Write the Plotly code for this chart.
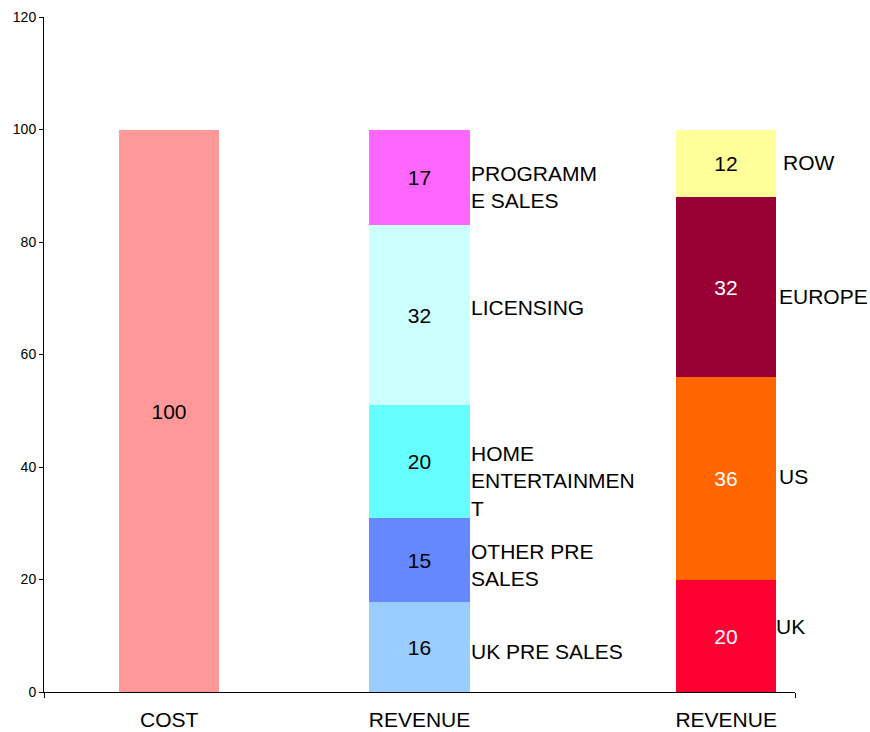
import plotly.graph_objects as go

# ---- data ----
group_labels = ["COST", "REVENUE", "REVENUE"]
group_pos = [0.5, 1.5, 2.725]

cost_names = ["COST"]
cost_values = [100]

revenue_type_names = ["UK PRE SALES", "OTHER PRE SALES", "HOME ENTERTAINMENT", "LICENSING", "PROGRAMME SALES"]
revenue_type_labels = ["UK PRE SALES", "OTHER PRE<br>SALES", "HOME<br>ENTERTAINMEN<br>T", "LICENSING", "PROGRAMM<br>E SALES"]
revenue_type_values = [16, 15, 20, 32, 17]

revenue_region_names = ["UK", "US", "EUROPE", "ROW"]
revenue_region_labels = ["UK", "US", "EUROPE", "ROW"]
revenue_region_values = [20, 36, 32, 12]

# ---- styles ----
FONT = "Liberation Sans, Arial, sans-serif"
TXT = 21
BAR_W = 0.4
cost_colors = ["#FF9999"]
type_colors = ["#99CCFF", "#6688FF", "#66FFFF", "#CCFFFF", "#FF66FF"]
type_text = ["black"] * 5
region_colors = ["#FF0033", "#FF6600", "#990033", "#FFFF99"]
region_text = ["white", "white", "white", "black"]

# pixel nudges for the side labels (xshift, yshift)
type_shift = [(-1, -4), (-1, -5), (-1, -20), (-1, 8), (-1, -10)]
region_shift = [(-2, 9), (1, 2), (1, -9), (5, 1)]

fig = go.Figure()
annotations = []


def add_stack(xpos, names, values, colors, tcolors, labels=None, shifts=None):
    base = 0
    for i, (n, v) in enumerate(zip(names, values)):
        fig.add_trace(go.Bar(
            x=[xpos], y=[v], name=n, width=BAR_W,
            marker=dict(color=colors[i], line=dict(width=0)),
            text=[str(v)], textposition="inside", insidetextanchor="middle",
            textfont=dict(family=FONT, size=TXT, color=tcolors[i]),
            constraintext="none", textangle=0,
            hoverinfo="skip", showlegend=False,
        ))
        if labels is not None:
            xs, ys = shifts[i]
            annotations.append(dict(
                x=xpos + BAR_W / 2, y=base + v / 2, xref="x", yref="y",
                text=labels[i], showarrow=False, xanchor="left", yanchor="middle",
                align="left", xshift=xs, yshift=ys,
                font=dict(family=FONT, size=TXT, color="black"),
            ))
        base += v


add_stack(group_pos[0], cost_names, cost_values, cost_colors, ["black"])
add_stack(group_pos[1], revenue_type_names, revenue_type_values, type_colors, type_text,
          revenue_type_labels, type_shift)
add_stack(group_pos[2], revenue_region_names, revenue_region_values, region_colors, region_text,
          revenue_region_labels, region_shift)

# boundary ticks on the category axis
fig.add_trace(go.Scatter(x=[0, 3], y=[None, None], xaxis="x2", yaxis="y",
                         showlegend=False, hoverinfo="skip"))

fig.update_layout(
    width=870, height=732,
    margin=dict(l=44, r=75, t=17, b=40, autoexpand=False),
    paper_bgcolor="white", plot_bgcolor="white",
    barmode="stack", bargap=0,
    font=dict(family=FONT, color="black"),
    annotations=annotations,
    xaxis=dict(
        range=[0, 3], tickmode="array", tickvals=group_pos, ticktext=group_labels,
        ticks="", showgrid=False, zeroline=False, showline=True,
        linecolor="black", linewidth=1, automargin=False,
        tickfont=dict(family=FONT, size=TXT, color="black"),
        ticklabelstandoff=9,
    ),
    xaxis2=dict(
        range=[0, 3], overlaying="x", side="bottom", tickmode="array",
        tickvals=[0, 3], ticktext=["", ""], ticks="outside", ticklen=5,
        tickcolor="black", showgrid=False, zeroline=False, showline=False,
        automargin=False,
    ),
    yaxis=dict(
        range=[0, 120], tickmode="linear", tick0=0, dtick=20,
        ticks="outside", ticklen=4, tickcolor="black",
        showgrid=False, zeroline=False, showline=True,
        linecolor="black", linewidth=1, automargin=False,
        tickfont=dict(family=FONT, size=14, color="black"),
        ticklabelstandoff=0,
    ),
    hovermode=False,
)

fig.write_html("out.html")
